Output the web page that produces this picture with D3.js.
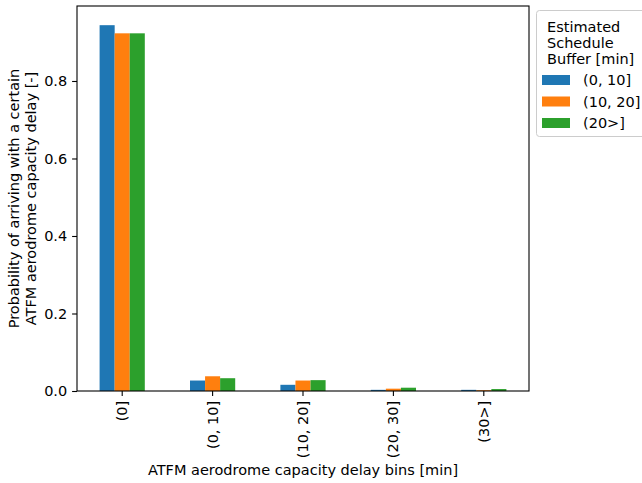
<!DOCTYPE html>
<html><head><meta charset="utf-8">
<script src="https://cdn.jsdelivr.net/npm/d3@7"></script>
<style>body{margin:0;background:#fff}svg{display:block}text{font-family:"DejaVu Sans",sans-serif;fill:#000}</style>
</head><body>
<script>
const categories = ["(0]", "(0, 10]", "(10, 20]", "(20, 30]", "(30>]"];
const seriesNames = ["(0, 10]", "(10, 20]", "(20>]"];
const series0 = [0.944, 0.027, 0.016, 0.003, 0.003];
const series1 = [0.923, 0.038, 0.027, 0.006, 0.002];
const series2 = [0.923, 0.033, 0.028, 0.0085, 0.005];
const colors = ["#1f77b4", "#ff7f0e", "#2ca02c"];
const yTicks = [0.0, 0.2, 0.4, 0.6, 0.8];
const legendTitle = ["Estimated", "Schedule", "Buffer [min]"];
const xLabel = "ATFM aerodrome capacity delay bins [min]";
const yLabel = ["Probability of arriving with a certain", "ATFM aerodrome capacity delay [-]"];

const W = 642, H = 483;
const m = {l: 77, r: 529, t: 6, b: 391};
const svg = d3.select("body").append("svg").attr("width", W).attr("height", H);
const fs = "14.5px";

const x = d3.scaleBand().domain(categories).range([m.l, m.r]).paddingInner(0.5).paddingOuter(0.25);
const xs = d3.scaleBand().domain(d3.range(3)).range([0, x.bandwidth()]);
const y = d3.scaleLinear().domain([0, 0.9935]).range([m.b, m.t]);

const data = [series0, series1, series2];
data.forEach((s, i) => {
  svg.append("g").selectAll("rect").data(s).join("rect")
    .attr("x", (d, j) => x(categories[j]) + xs(i))
    .attr("y", d => y(d))
    .attr("width", xs.bandwidth())
    .attr("height", d => y(0) - y(d))
    .attr("fill", colors[i]);
});

// axes
const ya = svg.append("g").attr("transform", `translate(${m.l},0)`)
  .call(d3.axisLeft(y).tickValues(yTicks).tickFormat(d3.format(".1f")).tickSize(4.9).tickPadding(4.9));
ya.select(".domain").remove();
ya.selectAll("text").style("font-size", fs).style("font-family", "DejaVu Sans");
ya.selectAll("line").attr("stroke", "#000").attr("stroke-width", 1.1);

const xa = svg.append("g").attr("transform", `translate(0,${m.b})`)
  .call(d3.axisBottom(x).tickSize(4.9).tickPadding(0));
xa.select(".domain").remove();
xa.selectAll("line").attr("stroke", "#000").attr("stroke-width", 1.1);
xa.selectAll("text").style("font-size", fs).style("font-family", "DejaVu Sans")
  .attr("transform", "rotate(-90)").attr("dy", "0.35em").attr("x", -9.8).attr("y", 0)
  .attr("text-anchor", "end");

svg.append("rect").attr("x", m.l).attr("y", m.t).attr("width", m.r - m.l).attr("height", m.b - m.t)
  .attr("fill", "none").attr("stroke", "#000").attr("stroke-width", 1.1);

// labels
svg.append("text").attr("x", (m.l + m.r) / 2).attr("y", 475).attr("text-anchor", "middle")
  .style("font-size", fs).text(xLabel);
yLabel.forEach((t, i) => {
  svg.append("text").attr("transform", `translate(${19 + i * 17},${(m.t + m.b) / 2}) rotate(-90)`)
    .attr("text-anchor", "middle").style("font-size", fs).text(t);
});

// legend
const lg = svg.append("g");
lg.append("rect").attr("x", 536.5).attr("y", 10.5).attr("width", 112).attr("height", 126).attr("rx", 3)
  .attr("fill", "#fff").attr("stroke", "#ccc").attr("stroke-width", 1);
legendTitle.forEach((t, i) => {
  lg.append("text").attr("x", 547).attr("y", 32 + i * 16).style("font-size", fs).text(t);
});
seriesNames.forEach((n, i) => {
  const yy = 80 + i * 21.5;
  lg.append("rect").attr("x", 542).attr("y", yy - 5).attr("width", 28).attr("height", 10).attr("fill", colors[i]);
  lg.append("text").attr("x", 583).attr("y", yy + 5).style("font-size", fs).text(n);
});
</script>
</body></html>
